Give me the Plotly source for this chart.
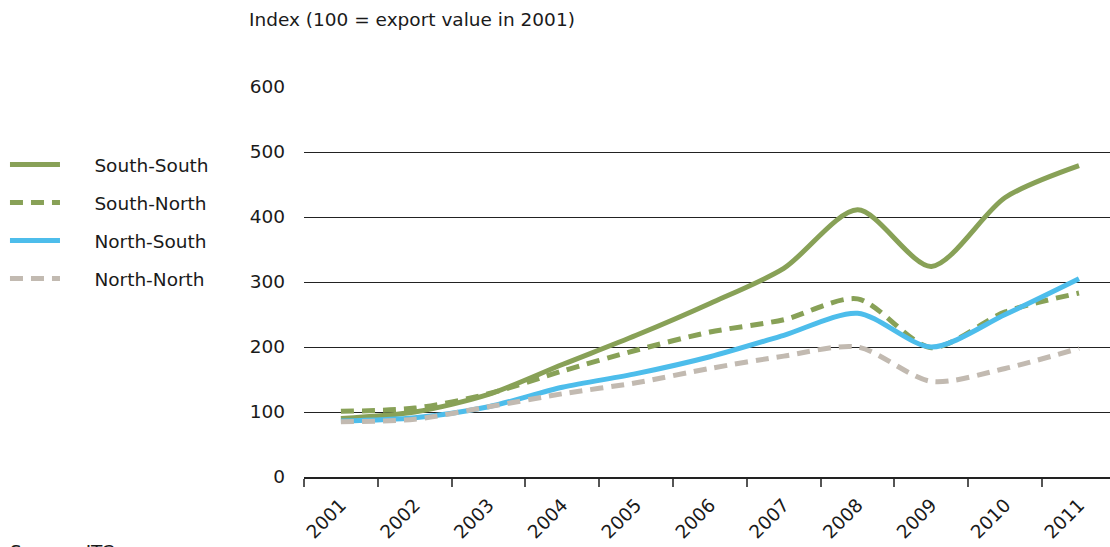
import plotly.graph_objects as go

years = ["2001", "2002", "2003", "2004", "2005", "2006", "2007", "2008", "2009", "2010", "2011"]
south_south = [90, 100, 127, 173, 218, 267, 321, 411, 324, 430, 479]
south_north = [101, 106, 128, 163, 195, 223, 242, 274, 199, 254, 283]
north_south = [86, 91, 108, 138, 159, 185, 218, 252, 200, 250, 305]
north_north = [85, 89, 108, 128, 145, 167, 186, 200, 147, 167, 198]

GREEN = "#88A157"
BLUE = "#4DBDEB"
GRAY = "#C2BAB1"
FONT = "DejaVu Sans"
FS = 18.5
TXT = "#1a1a1a"
PAD = "\u00a0" * 5

fig = go.Figure()
series = [
    ("South-South", south_south, GREEN, "solid"),
    ("South-North", south_north, GREEN, "13px,8px"),
    ("North-South", north_south, BLUE, "solid"),
    ("North-North", north_north, GRAY, "13px,8px"),
]
for i, (name, vals, color, dash) in enumerate(series):
    fig.add_trace(go.Scatter(
        x=years, y=vals, name=PAD + name, mode="lines",
        line=dict(color=color, width=5, dash=dash, shape="spline", smoothing=0.8),
        legendgroup=f"g{i}",
    ))

fig.update_layout(
    width=1110, height=547,
    margin=dict(l=304, r=0, t=87, b=70, autoexpand=False),
    plot_bgcolor="white", paper_bgcolor="white",
    font=dict(family=FONT, size=FS, color=TXT),
    showlegend=True,
    legend=dict(
        x=-0.371, xanchor="left", y=0.849, yanchor="top",
        font=dict(family=FONT, size=FS, color=TXT),
        tracegroupgap=11, itemwidth=50,
        bgcolor="rgba(0,0,0,0)",
    ),
    xaxis=dict(
        type="category", range=[-0.5, 10.42],
        showgrid=False, showline=True, linecolor="#222222", linewidth=2,
        ticks="outside", tickson="boundaries", ticklen=8, tickcolor="#555555", tickwidth=2,
        tickangle=-45, tickfont=dict(family=FONT, size=FS, color=TXT),
        ticklabelstandoff=8,
    ),
    yaxis=dict(
        range=[0, 600], dtick=100, showgrid=True, gridcolor="#222222", gridwidth=1,
        zeroline=False, showline=False, ticks="",
        tickfont=dict(family=FONT, size=FS, color=TXT),
        ticklabelstandoff=18,
    ),
    annotations=[
        dict(text="Index (100 = export value in 2001)", xref="paper", yref="paper",
             x=-0.0707, y=1.172, xanchor="left", yanchor="middle", showarrow=False,
             font=dict(family=FONT, size=FS, color=TXT)),
        dict(text="Source: ITC", xref="paper", yref="paper",
             x=-0.367, y=-0.16, xanchor="left", yanchor="top", showarrow=False,
             font=dict(family=FONT, size=FS, color=TXT)),
    ],
)

fig.write_html("out.html", config={"displayModeBar": False},
               post_script="document.body.style.margin='0';")
